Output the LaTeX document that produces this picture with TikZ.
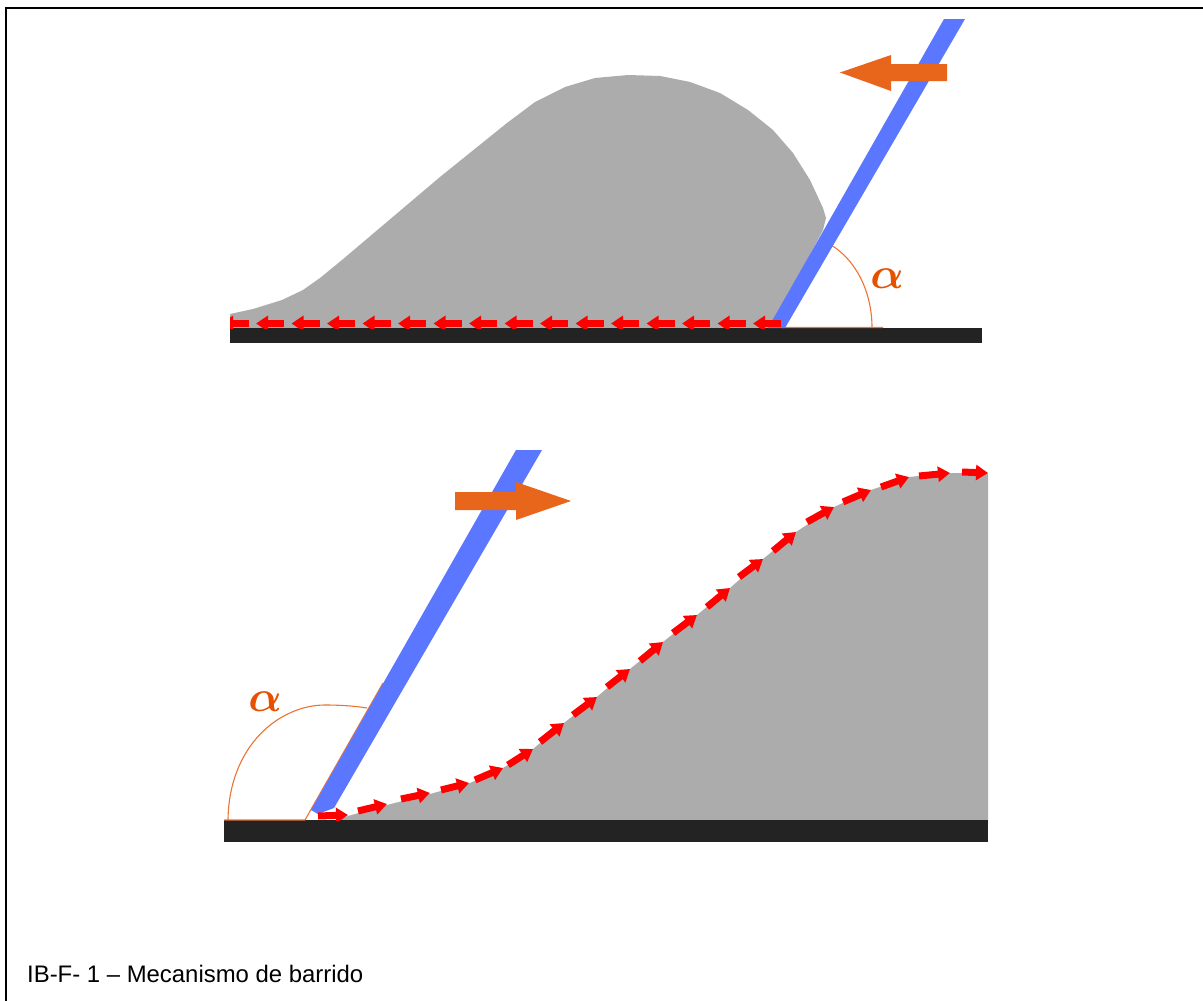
\documentclass[tikz,border=0pt]{standalone}
\usepackage{fontspec}
\usepackage{graphicx}
\setmainfont{Liberation Sans}
\usetikzlibrary{arrows.meta}
\definecolor{pilegrey}{HTML}{ACACAC}
\definecolor{bladeblue}{HTML}{5B76FF}
\definecolor{floorblack}{HTML}{232323}
\definecolor{motion}{HTML}{E8651C}
\definecolor{alphaorange}{HTML}{E65100}
\newsavebox{\alphabox}
\sbox{\alphabox}{\color{alphaorange}\boldmath$\alpha$}
\tikzset{
  pile/.style={fill=pilegrey,draw=none},
  blade/.style={fill=bladeblue,draw=none},
  floorbar/.style={fill=floorblack,draw=none},
  motionarrow/.style={fill=motion,draw=none},
  angleline/.style={draw=motion!90!white,line width=1.1pt},
  flow/.style={draw=red,line width=7pt,-{Triangle[length=12pt,width=15pt]}},
  alphalabel/.style={inner sep=0pt,anchor=center},
  caption/.style={anchor=base west,inner sep=0pt,font=\fontsize{23.9}{28}\selectfont}
}
\begin{document}
\begin{tikzpicture}[x=1pt,y=-1pt]
\useasboundingbox (0,0) rectangle (1203,1001);
\fill[white] (0,0) rectangle (1203,1001);
% frame
\draw[black,line width=2pt] (6,1001) -- (6,8) -- (1203,8);

% ---------- upper figure ----------
\fill[pile] (230,328) -- (230,314) -- (253,309) -- (282,300) -- (303,290) -- (320,278) -- (342,260)
  -- (440,177) -- (507,123) -- (535,102) -- (565,87) -- (595,78) -- (628,75) -- (660,76) -- (690,82)
  -- (720,93) -- (748,110) -- (773,130) -- (793,153) -- (810,180) -- (823,208) -- (826,218) -- (823,230)
  -- (771,328) -- cycle;
\fill[floorbar] (230,328) rectangle (982,343);
\draw[angleline] (883,327.5) -- (783,327.5) -- (838,232);
\draw[angleline] (872,327.5) .. controls (872,292) and (856,260) .. (831,245);
\fill[blade] (944,19) -- (965,19) -- (785,328) -- (768,328) -- cycle;
\fill[motionarrow] (947,64) -- (891,64) -- (891,55) -- (840,72.5) -- (891,91) -- (891,81) -- (947,81) -- cycle;
\node[alphalabel] (alphaA) at (887,279) {\scalebox{4.4}{\usebox{\alphabox}}};
\begin{scope}
  \clip (230,300) rectangle (800,328);
  \foreach \tipx in {221,256,291.5,327,362.5,398,433.5,469,504.5,540,575.5,611,646.5,682,717.5,753}
    \draw[flow] (\tipx+28,323.5) -- (\tipx,323.5);
\end{scope}

% ---------- lower figure ----------
\fill[pile] (338,820) -- (348,816) -- (387,805) -- (430,794) -- (470,783) -- (503,768) -- (533,749)
  -- (564,723) -- (598,696) -- (630,669) -- (663,642) -- (697,615) -- (730,588) -- (763,559) -- (796,532)
  -- (834,507) -- (871,490) -- (909,477) -- (950,473) -- (988,473) -- (988,820) -- cycle;
\fill[floorbar] (224,820) rectangle (988,842);
\draw[angleline] (224,820) -- (305,820) -- (383,683);
\draw[angleline] (228,820) .. controls (229,745) and (280,705) .. (325,705) .. controls (340,705) and (355,706) .. (367,708);
\fill[blade] (516,450) -- (542,450) -- (334,808) -- (318,814) -- (311,810) -- cycle;
\fill[motionarrow] (455,492) -- (516,492) -- (516,482) -- (571,501) -- (516,520) -- (516,510) -- (455,510) -- cycle;
\node[alphalabel] (alphaB) at (265,702) {\scalebox{4.4}{\usebox{\alphabox}}};
\begin{scope}
  \clip (224,440) rectangle (988,820);
  \draw[flow] (318,816) -- (348,815);
  \draw[flow] (358,811) -- (387,804);
  \draw[flow] (401,799) -- (430,793);
  \draw[flow] (441,790) -- (469,783);
  \draw[flow] (475,780) -- (503,768);
  \draw[flow] (508,765) -- (533,749);
  \draw[flow] (540,742) -- (564,723);
  \draw[flow] (573,715) -- (597,697);
  \draw[flow] (607,687) -- (630,669);
  \draw[flow] (640,661) -- (663,642);
  \draw[flow] (673,633) -- (697,615);
  \draw[flow] (707,607) -- (730,588);
  \draw[flow] (739,577) -- (763,559);
  \draw[flow] (773,551) -- (796,532);
  \draw[flow] (807,522) -- (834,507);
  \draw[flow] (843,502) -- (871,490);
  \draw[flow] (881,487) -- (909,477);
  \draw[flow] (919,476) -- (950,473);
  \draw[flow] (962,472) -- (988,473);
\end{scope}

% caption
\node[caption] (cap) at (27,982) {IB-F- 1 – Mecanismo de barrido};
\end{tikzpicture}
\end{document}
